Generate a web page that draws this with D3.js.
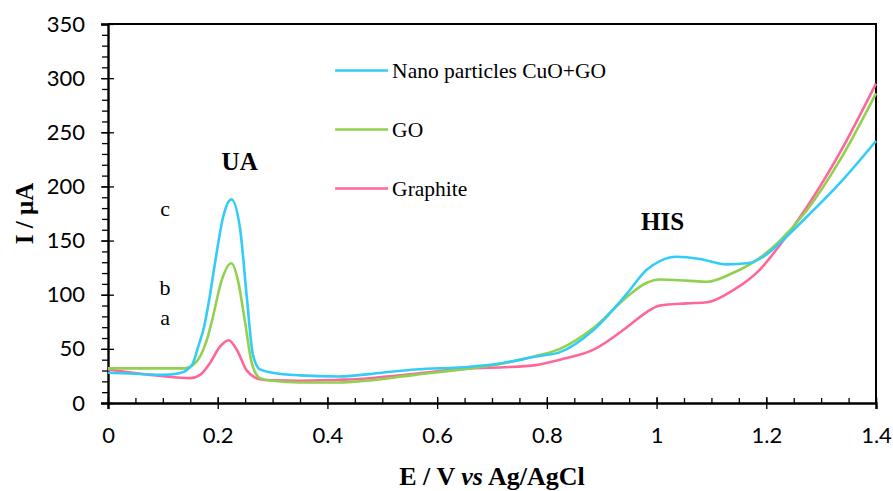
<!DOCTYPE html>
<html>
<head>
<meta charset="utf-8">
<script src="https://cdn.jsdelivr.net/npm/d3@7/dist/d3.min.js"></script>
<style>
  body { margin: 0; background: #fff; }
  .tick-label { font-family: Lato, "Open Sans", sans-serif; font-size: 22px; fill: #000; }
  .serif { font-family: "Liberation Serif", "Times New Roman", serif; fill: #000; }
</style>
</head>
<body>
<svg id="chart" width="893" height="491"></svg>
<script>
'use strict';

// potentials (V) and currents (uA)
const cuoGoE = [0, 0.05, 0.1, 0.13, 0.145, 0.155, 0.165, 0.175, 0.185, 0.195, 0.21, 0.225, 0.241, 0.253, 0.264, 0.277, 0.3, 0.35, 0.42, 0.5, 0.56, 0.66, 0.72, 0.78, 0.824, 0.884, 0.946, 0.982, 1.006, 1.037, 1.079, 1.128, 1.165, 1.2, 1.225, 1.274, 1.334, 1.4];
const cuoGoI = [28, 27, 26, 27.5, 31, 37, 53, 70, 97, 129, 172, 188, 160, 98, 45, 31, 28, 25.5, 24.5, 28, 31, 33.5, 37, 43, 47, 67, 101, 123, 131, 135, 133, 128, 129, 137, 148, 172, 203, 242];

const goE = [0, 0.1, 0.14, 0.155, 0.168, 0.18, 0.191, 0.207, 0.225, 0.237, 0.25, 0.262, 0.277, 0.3, 0.35, 0.42, 0.45, 0.56, 0.66, 0.72, 0.78, 0.824, 0.884, 0.946, 0.982, 1.006, 1.055, 1.092, 1.139, 1.188, 1.225, 1.274, 1.334, 1.4];
const goI = [32, 32, 32, 35, 43, 58, 79, 113, 129, 113, 74, 37, 23, 20.5, 19, 19, 19.7, 26, 32, 36.6, 43.4, 50, 69, 98, 111, 114, 113, 112, 120, 134, 150, 178, 224, 286];

const graphiteE = [0, 0.077, 0.15, 0.168, 0.186, 0.204, 0.22, 0.235, 0.253, 0.277, 0.3, 0.35, 0.42, 0.45, 0.56, 0.66, 0.72, 0.78, 0.824, 0.884, 0.946, 0.982, 1.006, 1.055, 1.092, 1.139, 1.188, 1.225, 1.274, 1.334, 1.4];
const graphiteI = [31, 26, 23, 26, 37, 52, 58, 49, 30, 22, 21, 20.6, 21.5, 22, 27, 32, 33, 35, 40, 49, 70, 84, 90, 92, 93, 104, 123, 146, 181, 231, 295];

const seriesNames = ['Nano particles CuO+GO', 'GO', 'Graphite'];
const xTicks = [0, 0.2, 0.4, 0.6, 0.8, 1, 1.2, 1.4];
const yTicks = [0, 50, 100, 150, 200, 250, 300, 350];

(function() {
    const d3 = window.d3;
    const margin = {top: 24, right: 17, bottom: 88, left: 108};
    const width = 893 - margin.left - margin.right;
    const height = 491 - margin.top - margin.bottom;
    const colors = ['#33ccf7', '#92d050', '#ff6699'];

    const svg = d3.select('#chart');
    const g = svg.append('g')
        .attr('transform', 'translate(' + margin.left + ',' + margin.top + ')');

    const x = d3.scaleLinear().domain([0, 1.4]).range([0, width]);
    const y = d3.scaleLinear().domain([0, 350]).range([height, 0]);

    // frame: top and right edges
    g.append('path')
        .attr('d', 'M0,0H' + width + 'V' + height)
        .attr('fill', 'none')
        .attr('stroke', '#000')
        .attr('stroke-width', 2);

    // minor ticks
    g.append('g')
        .attr('transform', 'translate(0,' + height + ')')
        .call(d3.axisBottom(x).tickValues(d3.range(0, 1.41, 0.05)).tickSize(-5).tickFormat(''))
        .call(a => a.select('.domain').remove())
        .selectAll('line').attr('stroke-width', 1.3);

    g.append('g')
        .call(d3.axisLeft(y).tickValues(d3.range(0, 351, 10)).tickSize(6).tickFormat(''))
        .call(a => a.select('.domain').remove())
        .selectAll('line').attr('stroke-width', 1.3);

    // major ticks, crossing the axis lines
    const xAxis = g.append('g')
        .attr('transform', 'translate(0,' + height + ')')
        .call(d3.axisBottom(x).tickValues(xTicks).tickSize(6).tickPadding(18)
            .tickFormat(d3.format('~g')));
    xAxis.selectAll('.tick line').attr('y1', -6).attr('stroke-width', 1.3);
    xAxis.select('.domain').attr('stroke-width', 2.4);
    xAxis.selectAll('text').attr('class', 'tick-label').attr('font-size', null).attr('font-family', null);

    const yAxis = g.append('g')
        .call(d3.axisLeft(y).tickValues(yTicks).tickSize(7).tickPadding(16));
    yAxis.selectAll('.tick line').attr('x1', 6).attr('stroke-width', 1.3);
    yAxis.select('.domain').attr('stroke-width', 2.4);
    yAxis.selectAll('text').attr('class', 'tick-label').attr('font-size', null).attr('font-family', null);

    // curves
    const seriesE = [cuoGoE, goE, graphiteE];
    const seriesI = [cuoGoI, goI, graphiteI];
    const line = d3.line()
        .x(d => x(d[0]))
        .y(d => y(d[1]))
        .curve(d3.curveMonotoneX);

    [2, 1, 0].forEach(k => {
        g.append('path')
            .datum(d3.zip(seriesE[k], seriesI[k]))
            .attr('fill', 'none')
            .attr('stroke', colors[k])
            .attr('stroke-width', 2.6)
            .attr('d', line);
    });

    // legend
    const legend = g.append('g')
        .attr('transform', 'translate(' + (x(0.414)) + ',' + y(307) + ')');
    const entry = legend.selectAll('g')
        .data(seriesNames)
        .enter()
        .append('g')
        .attr('transform', (d, i) => 'translate(0,' + (i * 59) + ')');
    entry.append('line')
        .attr('x1', 0).attr('x2', 53)
        .attr('stroke', (d, i) => colors[i])
        .attr('stroke-width', 2.6);
    entry.append('text')
        .attr('class', 'serif')
        .attr('x', 57)
        .attr('dy', 7)
        .attr('font-size', 21.5)
        .text(d => d);

    // annotations
    const notes = [
        {t: 'UA', e: 0.24, v: 215, bold: true, size: 25},
        {t: 'HIS', e: 1.011, v: 160, bold: true, size: 25},
        {t: 'c', e: 0.104, v: 173, bold: false, size: 22},
        {t: 'b', e: 0.104, v: 100, bold: false, size: 22},
        {t: 'a', e: 0.104, v: 72, bold: false, size: 22}
    ];
    g.selectAll('.note')
        .data(notes)
        .enter()
        .append('text')
        .attr('class', 'serif note')
        .attr('x', d => x(d.e))
        .attr('y', d => y(d.v))
        .attr('text-anchor', 'middle')
        .attr('font-size', d => d.size)
        .attr('font-weight', d => d.bold ? 'bold' : 'normal')
        .text(d => d.t);

    // axis titles
    const xt = svg.append('text')
        .attr('class', 'serif')
        .attr('x', margin.left + width / 2)
        .attr('y', 485)
        .attr('text-anchor', 'middle')
        .attr('font-size', 26)
        .attr('font-weight', 'bold');
    xt.append('tspan').text('E / V ');
    xt.append('tspan').attr('font-style', 'italic').text('vs');
    xt.append('tspan').text(' Ag/AgCl');

    svg.append('text')
        .attr('class', 'serif')
        .attr('transform', 'translate(33,' + (margin.top + height / 2) + ') rotate(-90)')
        .attr('text-anchor', 'middle')
        .attr('font-size', 25)
        .attr('font-weight', 'bold')
        .text('I / μA');
}());
</script>
</body>
</html>
